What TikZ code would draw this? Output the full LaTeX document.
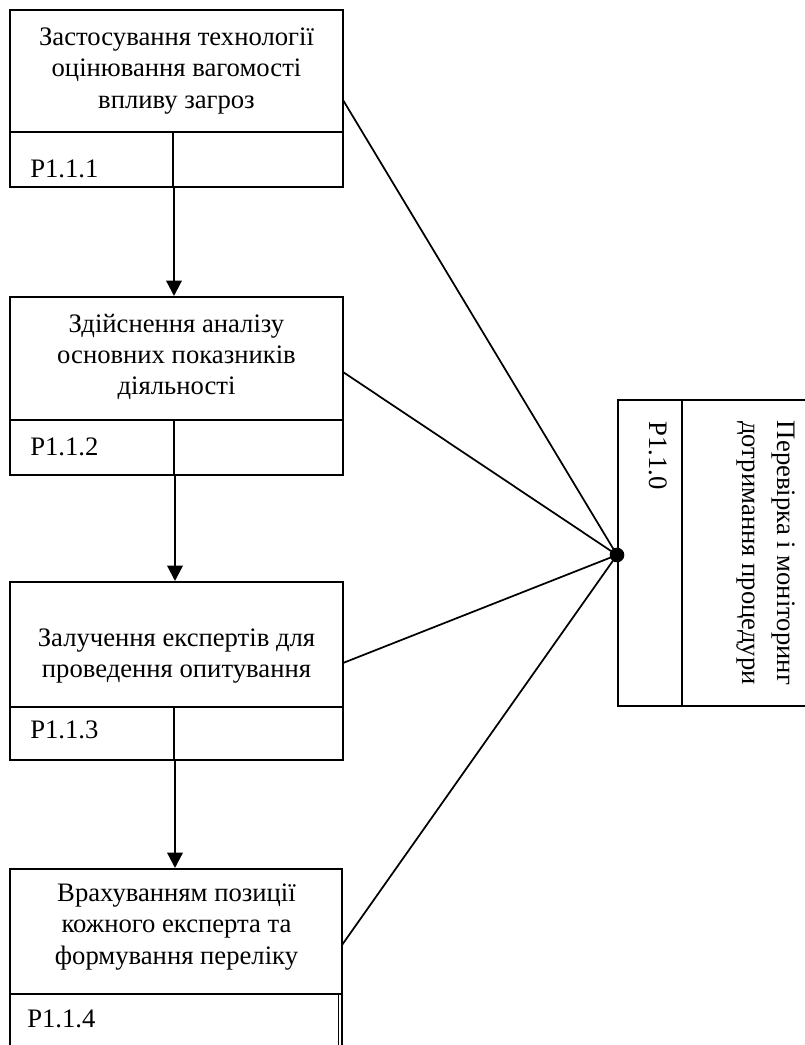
\documentclass[tikz,border=0pt]{standalone}
\usepackage{fontspec}
\setmainfont{Liberation Serif}
\usetikzlibrary{arrows.meta,fit}
\tikzset{
  cell/.style={draw, line width=1.5pt, inner sep=0pt, fit={#1}},
  txt/.style={align=center, font=\fontsize{20}{23.5}\selectfont},
  plabel/.style={anchor=base west, font=\fontsize{20}{23.5}\selectfont, inner sep=0pt},
  link/.style={line width=1.3pt},
  flow/.style={line width=1.7pt, -{Triangle[length=11.5pt,width=11.5pt]}}
}
\begin{document}
\begin{tikzpicture}[x=0.75pt,y=-0.75pt]
\useasboundingbox (0,0) rectangle (805,1045);
\clip (0,0) rectangle (805,1045);
% box 1
\node[cell={(10,10)(343,132)}] (b1) {};
\node[cell={(10,132)(173,187)}] (b1l) {};
\node[cell={(173,132)(343,187)}] (b1r) {};
\node[txt] (t1) at (176.5,71) {Застосування технології\\оцінювання вагомості\\впливу загроз};
\node[plabel] (p1) at (30,177) {P1.1.1};
% box 2
\node[cell={(10,297)(343,420)}] (b2) {};
\node[cell={(10,420)(174,475)}] (b2l) {};
\node[cell={(174,420)(343,475)}] (b2r) {};
\node[txt] (t2) at (176.5,357) {Здійснення аналізу\\основних показників\\діяльності};
\node[plabel] (p2) at (30,455) {P1.1.2};
% box 3
\node[cell={(10,582)(343,707)}] (b3) {};
\node[cell={(10,707)(174,760)}] (b3l) {};
\node[cell={(174,707)(343,760)}] (b3r) {};
\node[txt] (t3) at (176.5,656) {Залучення експертів для\\проведення опитування};
\node[plabel] (p3) at (30,738) {P1.1.3};
% box 4
\node[cell={(10,869)(342,994)}] (b4) {};
\node[cell={(10,994)(342,1060)}] (b4l) {};
\draw[line width=1.3pt] (b4l.north east) ++(-4.5,0) coordinate (b4i) -- (b4i |- b4l.south);
\node[txt] (t4) at (176.5,927) {Врахуванням позиції\\кожного експерта та\\формування переліку};
\node[plabel] (p4) at (27,1027) {P1.1.4};
% right box
\node[cell={(618,400)(682,706)}] (r0) {};
\node[cell={(682,400)(830,706)}] (r1) {};
\node[rotate=-90, anchor=west, font=\fontsize{20}{23.5}\selectfont, inner sep=0pt] (p0) at (658,421) {P1.1.0};
\node[rotate=-90, align=center, font=\fontsize{20}{26}\selectfont] (t0) at (766,553) {Перевірка і моніторинг\\дотримання процедури};
% junction
\node[circle, fill, inner sep=0pt, minimum size=11pt] (dot) at (617,555) {};
\coordinate (a1) at (343,100);
\coordinate (a2) at (343,372);
\coordinate (a3) at (343,663);
\coordinate (a4) at (342,945);
\draw[link] (a1) -- (dot.center);
\draw[link] (a2) -- (dot.center);
\draw[link] (a3) -- (dot.center);
\draw[link] (a4) -- (dot.center);
% flow arrows
\draw[flow] (b1l.south east) -- (b1l.south east |- b2.north);
\draw[flow] (b2l.south east) -- (b2l.south east |- b3.north);
\draw[flow] (b3l.south east) -- (b3l.south east |- b4.north);
\end{tikzpicture}
\end{document}
